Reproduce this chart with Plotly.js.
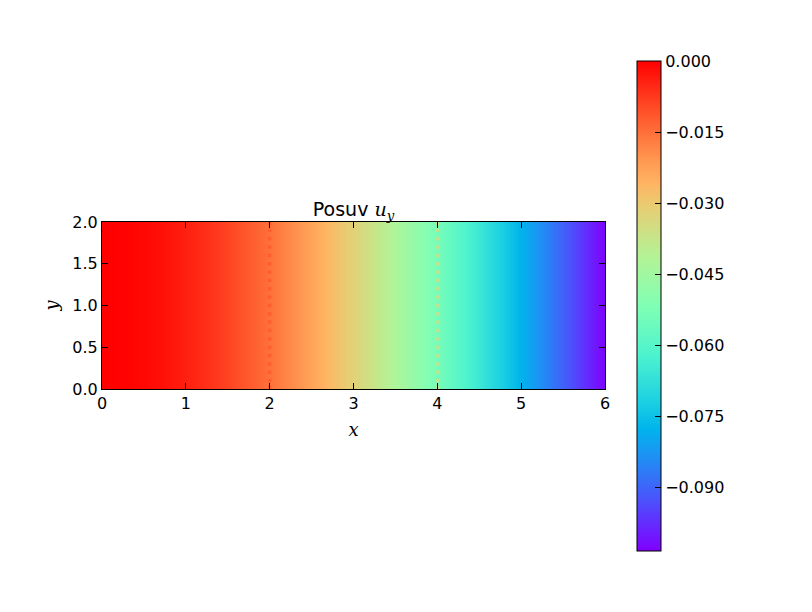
<!DOCTYPE html>
<html>
<head>
<meta charset="utf-8">
<script src="https://cdn.plot.ly/plotly-3.0.1.min.js"></script>
<style>body{margin:0;background:#fff;} #chart{width:812px;height:612px;}</style>
</head>
<body>
<div id="chart"></div>
<script>
var xPos = [0, 0.25, 0.5, 0.75, 1, 1.25, 1.5, 1.75, 2, 2.25, 2.5, 2.75, 3,
            3.25, 3.5, 3.75, 4, 4.25, 4.5, 4.75, 5, 5.25, 5.5, 5.75, 6];
var yPos = [0, 1, 2];
var uy = [0, -0.00027, -0.00105, -0.00232, -0.00407, -0.00627, -0.00889, -0.01192,
          -0.01533, -0.01910, -0.02321, -0.02763, -0.03234, -0.03733, -0.04256,
          -0.04801, -0.05367, -0.05950, -0.06550, -0.07162, -0.07786, -0.08419,
          -0.09059, -0.09703, -0.10350];
// mesh seams visible in the picture (slightly off-colour points)
var seamX = [2, 4];
var seamVal = [-0.012, -0.036];
var seamY = [0.02, 0.1, 0.2, 0.3, 0.4, 0.5, 0.6, 0.7, 0.8, 0.9, 1.0,
             1.1, 1.2, 1.3, 1.4, 1.5, 1.6, 1.7, 1.8, 1.9, 1.98];
var cbTicks = [0, -0.015, -0.030, -0.045, -0.060, -0.075, -0.090];
var xTicks = [0, 1, 2, 3, 4, 5, 6];
var yTicks = [0, 0.5, 1.0, 1.5, 2.0];

var zRows = yPos.map(function(){ return uy.slice(); });

// matplotlib "rainbow" colormap
var rainbow = [
  [0.0, 'rgb(128,0,255)'], [0.1, 'rgb(77,79,252)'], [0.2, 'rgb(26,150,243)'],
  [0.25, 'rgb(0,180,236)'], [0.3, 'rgb(26,206,227)'], [0.4, 'rgb(77,243,206)'],
  [0.5, 'rgb(128,255,180)'], [0.6, 'rgb(179,243,150)'], [0.7, 'rgb(230,206,116)'],
  [0.75, 'rgb(255,180,98)'], [0.8, 'rgb(255,150,79)'], [0.9, 'rgb(255,79,40)'],
  [1.0, 'rgb(255,0,0)']
];
var zMin = -0.1035, zMax = 0;

var font = {family: 'DejaVu Sans', size: 16, color: '#000'};

var traces = [{
  type: 'heatmap', x: xPos, y: yPos, z: zRows,
  zmin: zMin, zmax: zMax, zsmooth: 'best',
  colorscale: rainbow, hoverinfo: 'skip',
  colorbar: {
    x: (637 - 102) / 503, xanchor: 'left', xpad: 0, ypad: 0,
    y: (389 - 306) / 167, yanchor: 'middle',
    thickness: 24, thicknessmode: 'pixels',
    len: 490, lenmode: 'pixels',
    outlinecolor: '#000', outlinewidth: 1,
    tickvals: cbTicks, tickformat: '.3f', ticks: 'inside', ticklen: 6,
    tickcolor: '#000', tickfont: font
  }
}];

seamX.forEach(function(sx, i){
  traces.push({
    type: 'scatter', mode: 'markers', hoverinfo: 'skip', showlegend: false,
    x: seamY.map(function(){ return sx; }), y: seamY,
    marker: {symbol: 'square', size: 3.5, color: seamY.map(function(){ return seamVal[i]; }),
             cmin: zMin, cmax: zMax, colorscale: rainbow, showscale: false, opacity: 0.8,
             line: {width: 0}}
  });
});

var axisCommon = {
  showline: true, linecolor: '#000', linewidth: 1, mirror: 'ticks',
  ticks: 'inside', ticklen: 6, tickcolor: '#000', showgrid: false,
  zeroline: false, tickfont: font
};

var layout = {
  width: 812, height: 612,
  margin: {l: 102, r: 207, t: 222, b: 223},
  paper_bgcolor: '#fff', plot_bgcolor: '#fff',
  font: font, showlegend: false,
  title: {
    text: 'Posuv <span style="font-family:DejaVu Serif"><i>u</i><sub><i>y</i></sub></span>',
    font: {family: 'DejaVu Sans', size: 19, color: '#000'},
    x: 0.5, xref: 'paper', xanchor: 'center',
    y: 1, yref: 'paper', yanchor: 'bottom', pad: {b: 6}
  },
  xaxis: Object.assign({}, axisCommon, {
    range: [0, 6], tickvals: xTicks, ticktext: xTicks.map(String),
    title: {text: '<i>x</i>', font: {family: 'DejaVu Serif', size: 18, color: '#000'}, standoff: 11}
  }),
  yaxis: Object.assign({}, axisCommon, {
    range: [0, 2], tickvals: yTicks, ticktext: yTicks.map(function(v){return v.toFixed(1);}),
    title: {text: '<i>y</i>', font: {family: 'DejaVu Serif', size: 18, color: '#000'}, standoff: 9}
  })
};

Plotly.newPlot('chart', traces, layout, {displayModeBar: false, staticPlot: true});
</script>
</body>
</html>
